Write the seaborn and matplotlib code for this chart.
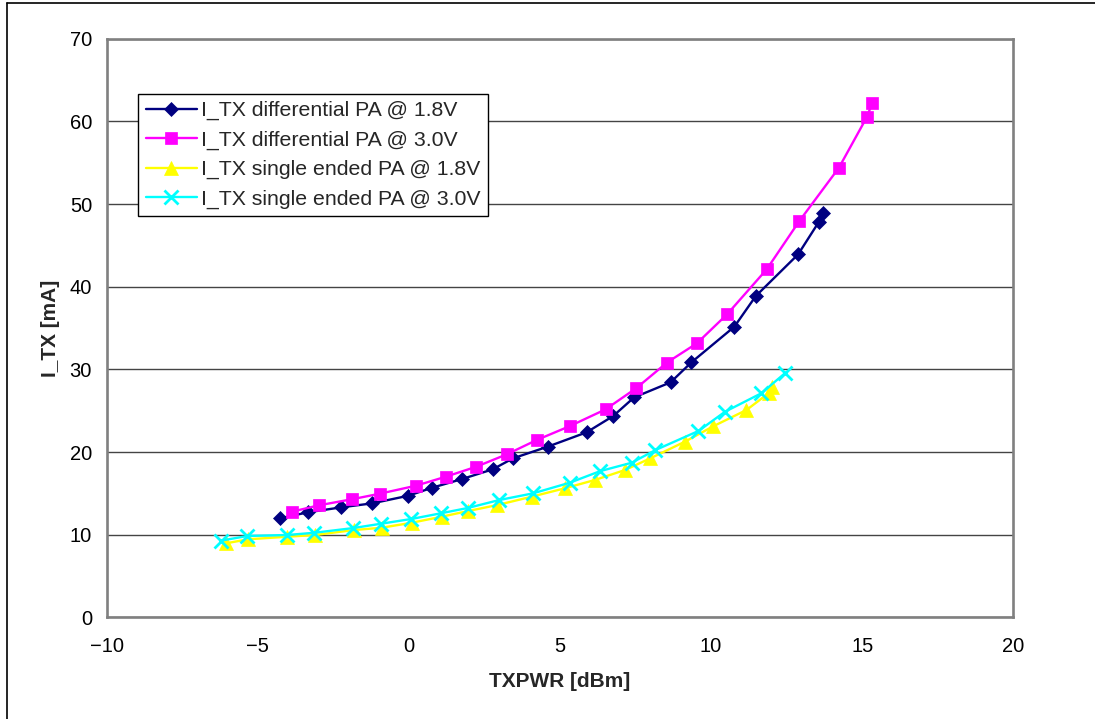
import matplotlib
matplotlib.use("Agg")
import matplotlib.pyplot as plt
import seaborn as sns
from matplotlib.lines import Line2D

# ----------------------------------
# Data
# ----------------------------------
diff_18_x = [-4.25, -3.35, -2.23, -1.21, -0.02, 0.77, 1.76, 2.77, 3.45, 4.59,
             5.88, 6.76, 7.45, 8.66, 9.35, 10.77, 11.48, 12.88, 13.57, 13.69]
diff_18_y = [11.98, 12.70, 13.31, 13.79, 14.71, 15.68, 16.73, 17.90, 19.24, 20.64,
             22.38, 24.35, 26.60, 28.43, 30.85, 35.16, 38.87, 43.91, 47.86, 48.87]

diff_30_x = [-3.87, -2.98, -1.89, -0.97, 0.23, 1.22, 2.23, 3.24, 4.23, 5.33,
             6.51, 7.53, 8.54, 9.53, 10.53, 11.84, 12.92, 14.23, 15.15, 15.33]
diff_30_y = [12.78, 13.55, 14.28, 14.95, 15.92, 17.01, 18.22, 19.72, 21.45, 23.14,
             25.16, 27.74, 30.82, 33.15, 36.66, 42.10, 47.94, 54.39, 60.49, 62.18]

se_18_x = [-6.06, -5.32, -4.03, -3.11, -1.82, -0.90, 0.09, 1.08, 1.96, 2.93,
           4.06, 5.16, 6.15, 7.15, 7.98, 9.13, 10.07, 11.17, 11.91, 12.01]
se_18_y = [8.95, 9.44, 9.75, 9.96, 10.56, 10.84, 11.44, 12.17, 12.86, 13.59,
           14.59, 15.61, 16.61, 17.82, 19.22, 21.24, 23.11, 25.08, 27.13, 27.86]

se_30_x = [-6.23, -5.34, -4.03, -3.13, -1.84, -0.93, 0.07, 1.05, 1.94, 2.99,
           4.11, 5.32, 6.34, 7.37, 8.16, 9.58, 10.46, 11.66, 12.44]
se_30_y = [9.27, 9.84, 9.96, 10.23, 10.80, 11.32, 11.89, 12.58, 13.22, 14.19,
           15.00, 16.28, 17.70, 18.70, 20.24, 22.54, 24.87, 27.10, 29.52]

labels = ["I_TX differential PA @ 1.8V", "I_TX differential PA @ 3.0V",
          "I_TX single ended PA @ 1.8V", "I_TX single ended PA @ 3.0V"]

# ----------------------------------
# Style
# ----------------------------------
sns.set_style("white")
plt.rcParams["font.family"] = ["Liberation Sans", "DejaVu Sans"]

fig = plt.figure(figsize=(10.95, 7.19), dpi=100)
ax = fig.add_axes([0.0974, 0.1414, 0.828, 0.8048])

series = [
    (diff_18_x, diff_18_y, "#000080", "D", 7.4, 0.5),
    (diff_30_x, diff_30_y, "#FF00FF", "s", 9.0, 0.5),
    (se_18_x, se_18_y, "#FFFF00", "^", 10.0, 0.5),
    (se_30_x, se_30_y, "#00FFFF", "x", 10.0, 2.0),
]

for (xs, ys, col, mk, ms, mew), lab in zip(series, labels):
    sns.lineplot(x=xs, y=ys, sort=False, ax=ax, color=col, linewidth=1.7,
                 marker=mk, markersize=ms, markeredgecolor=col,
                 markeredgewidth=mew, label=lab)

ax.set_xlim(-10, 20)
ax.set_ylim(0, 70)
ax.set_xticks(range(-10, 21, 5))
ax.set_yticks(range(0, 71, 10))
ax.set_xticklabels(["\u221210", "\u22125", "0", "5", "10", "15", "20"])

ax.yaxis.grid(True, color="#444444", linewidth=1.0)
ax.xaxis.grid(False)
for sp in ax.spines.values():
    sp.set_color("#808080")
    sp.set_linewidth(1.9)

ax.tick_params(axis="both", direction="out", length=4.5, width=1.0,
               color="#555555", labelsize=14.5, labelcolor="black")
ax.tick_params(axis="x", pad=10)
ax.tick_params(axis="y", pad=6)

ax.set_xlabel("TXPWR [dBm]", fontsize=15, fontweight="bold", labelpad=11)
ax.set_ylabel("I_TX [mA]", fontsize=15, fontweight="bold", labelpad=7)

leg = ax.legend(loc="upper left", bbox_to_anchor=(0.035, 0.905),
                borderaxespad=0, fontsize=15.3, frameon=True, fancybox=False,
                edgecolor="black", framealpha=1, handlelength=2.4,
                handletextpad=0.2, labelspacing=0.48, borderpad=0.35)
leg.get_frame().set_linewidth(1.0)

# outer border of the original chart (only top and left show)
fig.add_artist(Line2D([0.0061, 0.0061], [0.0, 0.9965], transform=fig.transFigure,
                      color="black", linewidth=1.2))
fig.add_artist(Line2D([0.0061, 1.0], [0.9965, 0.9965], transform=fig.transFigure,
                      color="black", linewidth=1.2))

fig.savefig("out.png", dpi=100)
